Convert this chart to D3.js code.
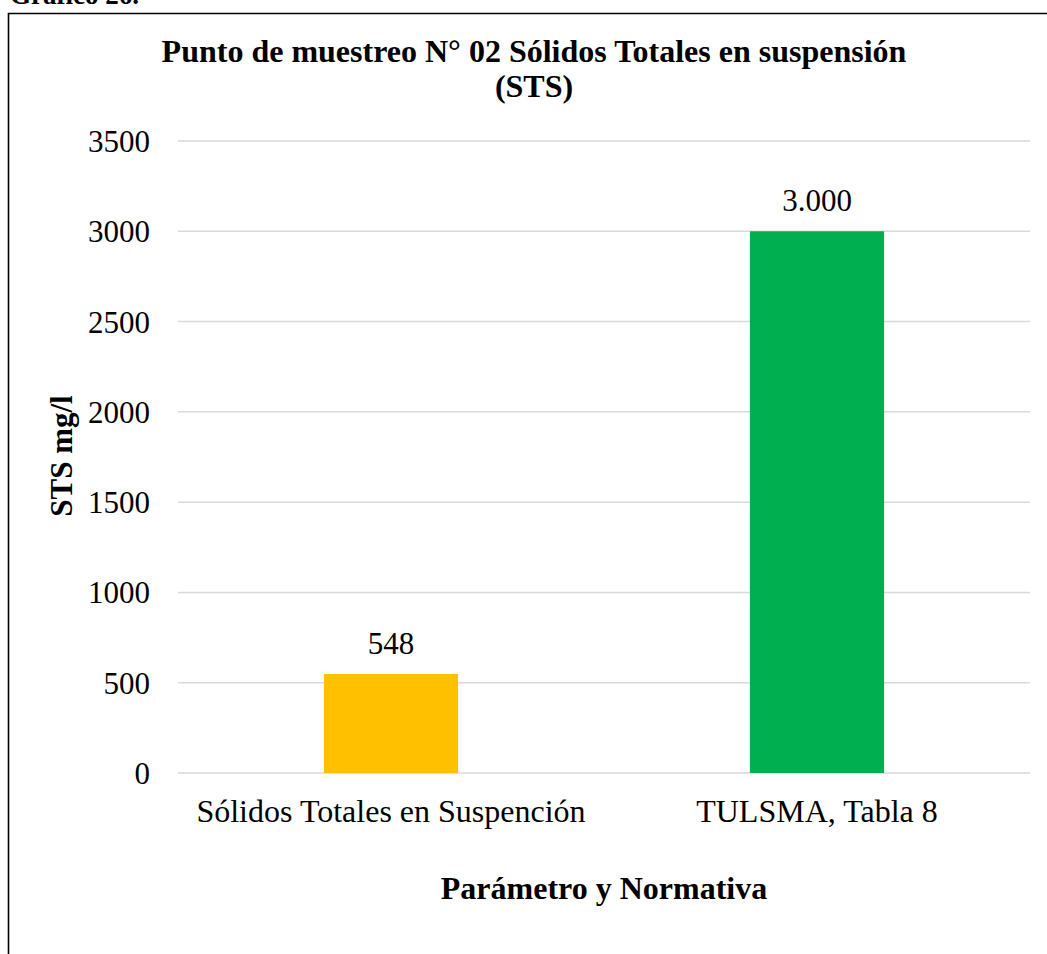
<!DOCTYPE html>
<html>
<head>
<meta charset="utf-8">
<script src="https://cdn.jsdelivr.net/npm/d3@7"></script>
<style>
  body { margin: 0; background: #fff; }
  text { font-family: "Liberation Serif", "Times New Roman", serif; fill: #000; }
</style>
</head>
<body>
<svg width="1047" height="954"></svg>
<script>
// Data
let categories = ["Sólidos Totales en Suspención", "TULSMA, Tabla 8"];
let values = [548, 3000];
let valueLabels = ["548", "3.000"];
let barColors = ["#ffc000", "#00b050"];
let yTicks = [0, 500, 1000, 1500, 2000, 2500, 3000, 3500];

let svg = d3.select("svg");

// Frame and caption (caption is cut by the top edge, as in the source)
svg.append("text")
  .attr("x", 10).attr("y", 4)
  .attr("font-size", 27).attr("font-weight", "bold")
  .text("Gráfico 26.");

svg.append("path")
  .attr("d", "M8.5,960 V13.5 H1060")
  .attr("fill", "none")
  .attr("stroke", "#000")
  .attr("stroke-width", 1.6);

// Scales
let x = d3.scaleBand()
  .domain(categories)
  .range([178, 1030])
  .padding(0);

let y = d3.scaleLinear()
  .domain([0, 3500])
  .range([773, 141]);

let barW = x.bandwidth() * 0.315;

// Gridlines
svg.append("g")
  .selectAll("line")
  .data(yTicks)
  .enter()
  .append("line")
  .attr("x1", 178).attr("x2", 1030)
  .attr("y1", d => y(d)).attr("y2", d => y(d))
  .attr("stroke", "#d9d9d9")
  .attr("stroke-width", 1.5);

// Y axis labels
svg.append("g")
  .selectAll("text")
  .data(yTicks)
  .enter()
  .append("text")
  .attr("x", 150)
  .attr("y", d => y(d) + 11)
  .attr("text-anchor", "end")
  .attr("font-size", 31)
  .text(d => d);

// Bars
svg.append("g")
  .selectAll("rect")
  .data(values)
  .enter()
  .append("rect")
  .attr("x", (d, i) => x(categories[i]) + x.bandwidth() / 2 - barW / 2)
  .attr("y", d => y(d))
  .attr("width", barW)
  .attr("height", d => y(0) - y(d))
  .attr("fill", (d, i) => barColors[i]);

// Value labels
svg.append("g")
  .selectAll("text")
  .data(values)
  .enter()
  .append("text")
  .attr("x", (d, i) => x(categories[i]) + x.bandwidth() / 2)
  .attr("y", d => y(d) - 20)
  .attr("text-anchor", "middle")
  .attr("font-size", 31)
  .text((d, i) => valueLabels[i]);

// Category labels
svg.append("g")
  .selectAll("text")
  .data(categories)
  .enter()
  .append("text")
  .attr("x", d => x(d) + x.bandwidth() / 2)
  .attr("y", 822)
  .attr("text-anchor", "middle")
  .attr("font-size", 32)
  .text(d => d);

// Titles
let title = svg.append("text")
  .attr("x", 534).attr("y", 62)
  .attr("text-anchor", "middle")
  .attr("font-size", 32)
  .attr("font-weight", "bold");
title.append("tspan").attr("x", 534).text("Punto de muestreo N° 02 Sólidos Totales en suspensión");
title.append("tspan").attr("x", 534).attr("dy", 35).text("(STS)");

svg.append("text")
  .attr("x", 604).attr("y", 899)
  .attr("text-anchor", "middle")
  .attr("font-size", 32)
  .attr("font-weight", "bold")
  .text("Parámetro y Normativa");

svg.append("text")
  .attr("transform", "translate(72,456) rotate(-90)")
  .attr("text-anchor", "middle")
  .attr("font-size", 31)
  .attr("font-weight", "bold")
  .text("STS mg/l");
</script>
</body>
</html>
